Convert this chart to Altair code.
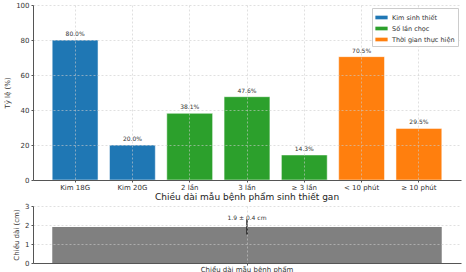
import altair as alt
import pandas as pd

categories = ["Kim 18G", "Kim 20G", "2 lần", "3 lần", "≥ 3 lần", "< 10 phút", "≥ 10 phút"]
values = [80.0, 20.0, 38.1, 47.6, 14.3, 70.5, 29.5]
groups = ["Kim sinh thiết", "Kim sinh thiết", "Số lần chọc", "Số lần chọc", "Số lần chọc",
          "Thời gian thực hiện", "Thời gian thực hiện"]
group_order = ["Kim sinh thiết", "Số lần chọc", "Thời gian thực hiện"]
group_colors = ["#1f77b4", "#2ca02c", "#ff7f0e"]

length_label = ["Chiều dài mẫu bệnh phẩm"]
length_mean = [1.9]
length_sd = [0.4]

FONT = "DejaVu Sans"

df = pd.DataFrame({"cat": categories, "val": values, "grp": groups,
                   "lbl": [f"{v:.1f}%" for v in values]})

common_axis = dict(labelFontSize=7, labelColor="#333", domainColor="#555", tickSize=2,
                   tickColor="#555", grid=True, gridColor="#cccccc", gridDash=[2, 2],
                   gridOpacity=0.6, zindex=1, labelOverlap=False)

x = alt.X("cat:N", sort=categories, scale=alt.Scale(paddingInner=0.2, paddingOuter=0.335),
          axis=alt.Axis(title=None, labelAngle=0, bandPosition=0.5, labelPadding=1, **common_axis))
y = alt.Y("val:Q", scale=alt.Scale(domain=[0, 100]),
          axis=alt.Axis(title="Tỷ lệ (%)", values=[0, 20, 40, 60, 80, 100], tickCount=6,
                        titleFontSize=7, titleFontWeight="normal", titleColor="#333",
                        titlePadding=5, **common_axis))
base = alt.Chart(df).encode(x=x, y=y)
bars = base.mark_bar(stroke="white", strokeOpacity=0.5, strokeWidth=1).encode(
    color=alt.Color("grp:N", scale=alt.Scale(domain=group_order, range=group_colors),
                    legend=alt.Legend(title=None, orient="top-right", labelFontSize=6.5,
                                      labelFont=FONT, symbolType="M-1,-0.3L1,-0.3L1,0.3L-1,0.3Z",
                                      symbolSize=150, symbolStrokeWidth=0, rowPadding=1,
                                      fillColor="white", strokeColor="#cccccc", padding=3,
                                      offset=3, labelColor="#333")),
)
texts = base.mark_text(dy=-6, fontSize=6, font=FONT, color="#333").encode(text="lbl:N")
top = (bars + texts).properties(width=428, height=175)

df2 = pd.DataFrame({"lab": length_label, "m": length_mean, "sd": length_sd})
df2["lo"] = df2["m"] - df2["sd"]
df2["hi"] = df2["m"] + df2["sd"]
df2["txt"] = [f"{m} ± {s} cm" for m, s in zip(length_mean, length_sd)]

x2 = alt.X("lab:N", scale=alt.Scale(paddingInner=0.09, paddingOuter=0.045),
           axis=alt.Axis(title=None, labelAngle=0, bandPosition=0.5, labelPadding=0, **common_axis))
ys2 = alt.Scale(domain=[0, 3])
y2ax = alt.Axis(title="Chiều dài (cm)", values=[0, 1, 2, 3], tickCount=4,
                titleFontSize=7, titleFontWeight="normal", titleColor="#333",
                titlePadding=5, **common_axis)
base2 = alt.Chart(df2).encode(x=x2)
bar2 = base2.mark_bar(color="#808080").encode(y=alt.Y("m:Q", scale=ys2, axis=y2ax))
err = base2.mark_rule(color="#222", strokeWidth=1.5).encode(
    y=alt.Y("lo:Q", scale=ys2, axis=y2ax), y2="hi:Q")
t2 = base2.mark_text(dy=-1, fontSize=6, font=FONT, color="#333").encode(
    y=alt.Y("hi:Q", scale=ys2, axis=y2ax), text="txt:N")
bottom = (bar2 + err + t2).properties(
    width=428, height=57,
    title=alt.TitleParams("Chiều dài mẫu bệnh phẩm sinh thiết gan", fontSize=9,
                          fontWeight="normal", font=FONT, color="#222", offset=0))

chart = alt.vconcat(top, bottom, spacing=3).properties(
    padding={"left": 3, "top": 1, "right": 4, "bottom": 0}
).configure(font=FONT).configure_view(stroke=None)

chart.save("out.html", embed_options={"renderer": "svg", "actions": False})
